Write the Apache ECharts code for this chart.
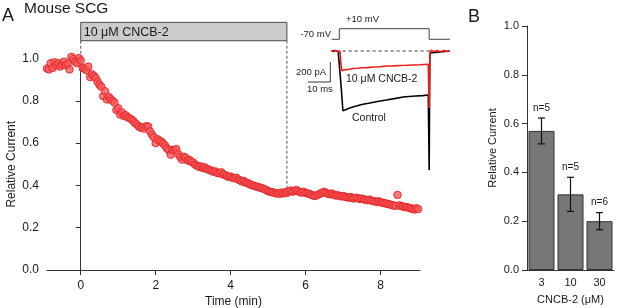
<!DOCTYPE html>
<html>
<head>
<meta charset="utf-8">
<script src="https://cdn.jsdelivr.net/npm/echarts@6/dist/echarts.min.js"></script>
<style>
  html, body { margin: 0; padding: 0; background: #fff; }
  #chart { width: 617px; height: 308px; }
</style>
</head>
<body>
<div id="chart"></div>
<script>
// ---- panel A: relative current over time (one sample every 3 s) ----
const sampleStart = -0.9;
const sampleStep = 0.05;
const relCurrent = [
  0.953, 0.948, 0.978, 0.955, 0.982, 0.968, 0.978, 0.962, 0.972, 0.985,
  0.968, 0.975, 0.948, 1.008, 0.998, 0.985, 0.978, 1.002, 0.990, 0.955,
  0.952, 0.945, 0.962, 0.912, 0.925, 0.918, 0.908, 0.890, 0.876, 0.866,
  0.822, 0.845, 0.806, 0.818, 0.808, 0.800, 0.792, 0.757, 0.765, 0.735,
  0.745, 0.728, 0.732, 0.722, 0.718, 0.712, 0.705, 0.694, 0.688, 0.678,
  0.672, 0.676, 0.668, 0.680, 0.678, 0.655, 0.640, 0.628, 0.600, 0.618,
  0.610, 0.607, 0.598, 0.588, 0.575, 0.566, 0.545, 0.568, 0.566, 0.572,
  0.548, 0.535, 0.522, 0.536, 0.530, 0.518, 0.520, 0.512, 0.508, 0.498,
  0.494, 0.488, 0.490, 0.482, 0.486, 0.478, 0.476, 0.472, 0.468, 0.464,
  0.466, 0.458, 0.457, 0.462, 0.452, 0.449, 0.444, 0.440, 0.442, 0.436,
  0.434, 0.436, 0.428, 0.424, 0.418, 0.421, 0.414, 0.410, 0.407, 0.402,
  0.400, 0.396, 0.394, 0.392, 0.388, 0.386, 0.382, 0.378, 0.372, 0.370,
  0.368, 0.366, 0.362, 0.364, 0.360, 0.366, 0.362, 0.368, 0.364, 0.372,
  0.376, 0.370, 0.374, 0.378, 0.372, 0.368, 0.366, 0.370, 0.364, 0.362,
  0.360, 0.356, 0.352, 0.350, 0.354, 0.358, 0.362, 0.366, 0.370, 0.364,
  0.360, 0.358, 0.362, 0.356, 0.352, 0.354, 0.350, 0.348, 0.350, 0.346,
  0.344, 0.342, 0.345, 0.340, 0.338, 0.342, 0.339, 0.336, 0.338, 0.334,
  0.332, 0.330, 0.333, 0.328, 0.326, 0.324, 0.322, 0.325, 0.320, 0.318,
  0.316, 0.314, 0.312, 0.310, 0.307, 0.305, 0.303, 0.355, 0.306, 0.302,
  0.300, 0.297, 0.298, 0.294, 0.292, 0.289, 0.286, 0.292, 0.288
];
const timeTicks = [0, 2, 4, 6, 8];
const drugWindow = [0, 5.5];
const drugLabel = '10 μM CNCB-2';
const markerLines = [[0, 0.99], [5.5, 0.37]];

// ---- inset: example currents (ms, pA) and voltage step (ms, mV) ----
const voltageTrace = [[-3.4, -70], [0, -70], [0, 10], [40, 10], [40, -70], [49.2, -70]];
const cncbTrace = [
  [-3.5, 5], [-2.6, -8], [-1.7, 6], [-0.8, -5], [0.3, 0], [0.7, -130], [1.2, -197],
  [2, -205], [3, -186], [4.5, -182], [6, -175], [8, -172], [10, -168], [12.5, -166],
  [15, -160], [18, -157], [21, -150], [24, -149], [27, -145], [30, -143], [33, -140],
  [36, -138], [39.6, -133], [40, -570], [40.3, -20], [41, 8], [42.2, -6], [43.5, 5],
  [45, -7], [46.5, 6], [48, -4], [49.2, 3]
];
const controlTrace = [
  [-3.5, -3], [-2, 5], [-0.5, -4], [0.3, 0], [0.9, -380], [1.6, -597], [2.5, -590],
  [3.5, -580], [5, -568], [6, -560], [8, -548], [10, -535], [13.6, -520], [17, -505],
  [21, -490], [24.5, -476], [28.4, -460], [31, -455], [34, -450], [37, -446],
  [39.6, -440], [40, -1190], [40.3, -20], [41, 0], [49.2, 0]
];
const zeroLine = [[1.5, 0], [40.5, 0]];
const scaleBar = [[-14, -310], [-4, -310], [-4, -110]];

// ---- panel B: concentration dependence ----
const concLabels = ['3', '10', '30'];
const barMeans = [0.57, 0.31, 0.2];
const barErrors = [0.053, 0.07, 0.035];
const barN = ['n=5', 'n=5', 'n=6'];

const FONT = '"Liberation Sans", Arial, sans-serif';
const INK = '#1a1a1a';
const AXIS = '#333';

const chart = echarts.init(document.getElementById('chart'));

function txt(text, x, y, size, align) {
  return {
    type: 'text', x, y, z: 100,
    style: { text, fontFamily: FONT, fontSize: size, fill: INK, align: align || 'left', verticalAlign: 'middle' }
  };
}

chart.setOption({
  animation: false,
  grid: [
    { left: 47, top: 58.5, width: 373, height: 211.5, outerBoundsMode: 'none' },
    { left: 527, top: 26, width: 87, height: 244, outerBoundsMode: 'none' },
    { left: 300, top: 15, width: 155, height: 157, outerBoundsMode: 'none' }
  ],
  xAxis: [
    {
      gridIndex: 0, type: 'value', min: -0.9, max: 9.05,
      name: 'Time (min)', nameLocation: 'middle', nameGap: 26, nameMoveOverlap: false,
      nameTextStyle: { fontFamily: FONT, fontSize: 12, color: INK },
      axisLine: { onZero: false, lineStyle: { color: AXIS } },
      axisTick: { customValues: timeTicks, length: 5, lineStyle: { color: AXIS } },
      axisLabel: { customValues: timeTicks, fontFamily: FONT, fontSize: 12, color: INK, margin: 10 },
      splitLine: { show: false }
    },
    {
      gridIndex: 1, type: 'category', data: concLabels,
      name: 'CNCB-2 (μM)', nameLocation: 'middle', nameGap: 24.5, nameMoveOverlap: false,
      nameTextStyle: { fontFamily: FONT, fontSize: 11, color: INK },
      axisLine: { lineStyle: { color: AXIS } },
      axisTick: { alignWithLabel: false, length: 5, lineStyle: { color: AXIS } },
      axisLabel: { fontFamily: FONT, fontSize: 11, color: INK, margin: 7 }
    },
    { gridIndex: 2, type: 'value', min: -17.5, max: 51.5, show: false }
  ],
  yAxis: [
    {
      gridIndex: 0, type: 'value', min: 0, max: 1, interval: 0.2,
      name: 'Relative Current', nameLocation: 'middle', nameGap: 29, nameMoveOverlap: false,
      nameTextStyle: { fontFamily: FONT, fontSize: 12, color: INK },
      axisLine: { show: true, lineStyle: { color: AXIS } },
      axisTick: { show: true, length: 5, lineStyle: { color: AXIS } },
      axisLabel: { fontFamily: FONT, fontSize: 12, color: INK, margin: 8, formatter: v => v.toFixed(1) },
      splitLine: { show: false }
    },
    {
      gridIndex: 1, type: 'value', min: 0, max: 1, interval: 0.2,
      name: 'Relative Current', nameLocation: 'middle', nameGap: 29, nameMoveOverlap: false,
      nameTextStyle: { fontFamily: FONT, fontSize: 11, color: INK },
      axisLine: { show: true, lineStyle: { color: AXIS } },
      axisTick: { show: true, length: 5, lineStyle: { color: AXIS } },
      axisLabel: { fontFamily: FONT, fontSize: 11, color: INK, margin: 8, formatter: v => v.toFixed(1) },
      splitLine: { show: false }
    },
    { gridIndex: 2, type: 'value', min: -1210, max: 360, show: false },
    { gridIndex: 2, type: 'value', min: -1071.5, max: 113.4, show: false }
  ],
  graphic: [
    txt('A', 2, 16, 18),
    txt('Mouse SCG', 24, 9, 15.5),
    txt('B', 468, 17, 18),
    txt('-70 mV', 331, 34, 9.5, 'right'),
    txt('+10 mV', 346, 19.5, 9.5),
    txt('200 pA', 326, 72, 9.5, 'right'),
    txt('10 ms', 307, 89, 9.5),
    txt('10 μM CNCB-2', 346, 79, 10.5),
    txt('Control', 352, 118, 10.5)
  ],
  series: [
    {
      // dashed markers from the drug bar down to the data
      type: 'custom', xAxisIndex: 0, yAxisIndex: 0, silent: true, z: 1,
      data: markerLines,
      renderItem: (params, api) => {
        const top = api.coord([api.value(0), 1.084]);
        const bot = api.coord([api.value(0), api.value(1)]);
        return {
          type: 'line',
          shape: { x1: top[0], y1: top[1], x2: bot[0], y2: bot[1] },
          style: { stroke: '#555', lineWidth: 1, lineDash: [3, 2] }
        };
      }
    },
    {
      // drug application bar
      type: 'custom', xAxisIndex: 0, yAxisIndex: 0, silent: true, z: 3,
      data: [drugWindow],
      renderItem: (params, api) => {
        const p0 = api.coord([api.value(0), 1.171]);
        const p1 = api.coord([api.value(1), 1.084]);
        return {
          type: 'group',
          children: [
            {
              type: 'rect',
              shape: { x: p0[0], y: p0[1], width: p1[0] - p0[0], height: p1[1] - p0[1] },
              style: { fill: '#cbcbcb', stroke: '#4a4a4a', lineWidth: 1 }
            },
            {
              type: 'text', x: p0[0] + 3, y: (p0[1] + p1[1]) / 2 + 1,
              style: { text: drugLabel, fontFamily: FONT, fontSize: 12.5, fill: INK, verticalAlign: 'middle' }
            }
          ]
        };
      }
    },
    {
      type: 'scatter', xAxisIndex: 0, yAxisIndex: 0, clip: false, z: 2,
      data: relCurrent.map((v, i) => [sampleStart + i * sampleStep, v]),
      symbolSize: 7.5,
      itemStyle: { color: 'rgba(255,88,88,0.8)', borderColor: '#e0262a', borderWidth: 0.9, opacity: 1 }
    },
    // inset
    {
      type: 'line', xAxisIndex: 2, yAxisIndex: 3, data: voltageTrace, symbol: 'none',
      lineStyle: { color: '#444', width: 1 }
    },
    {
      type: 'line', xAxisIndex: 2, yAxisIndex: 2, data: zeroLine, symbol: 'none',
      lineStyle: { color: '#333', width: 1, type: [3, 3] }
    },
    {
      type: 'line', xAxisIndex: 2, yAxisIndex: 2, data: scaleBar, symbol: 'none',
      lineStyle: { color: '#333', width: 1 }
    },
    {
      type: 'line', xAxisIndex: 2, yAxisIndex: 2, data: controlTrace, symbol: 'none',
      lineStyle: { color: '#000', width: 1.6 }
    },
    {
      type: 'line', xAxisIndex: 2, yAxisIndex: 2, data: cncbTrace, symbol: 'none',
      lineStyle: { color: '#ec1c1c', width: 1.6 }
    },
    // panel B
    {
      type: 'bar', xAxisIndex: 1, yAxisIndex: 1, data: barMeans, barWidth: 26,
      itemStyle: { color: '#777', borderColor: '#333', borderWidth: 1 }
    },
    {
      type: 'custom', xAxisIndex: 1, yAxisIndex: 1, silent: true, z: 5,
      data: barMeans.map((m, i) => [i, m, barErrors[i]]),
      renderItem: (params, api) => {
        const i = api.value(0), m = api.value(1), e = api.value(2);
        const hi = api.coord([i, m + e]);
        const lo = api.coord([i, m - e]);
        const cap = 3.5;
        const ln = (x1, y1, x2, y2) => ({
          type: 'line', shape: { x1, y1, x2, y2 }, style: { stroke: '#111', lineWidth: 1.2 }
        });
        return {
          type: 'group',
          children: [
            ln(hi[0], hi[1], lo[0], lo[1]),
            ln(hi[0] - cap, hi[1], hi[0] + cap, hi[1]),
            ln(lo[0] - cap, lo[1], lo[0] + cap, lo[1]),
            {
              type: 'text', x: hi[0], y: hi[1] - 10,
              style: { text: barN[params.dataIndex], fontFamily: FONT, fontSize: 10, fill: INK, align: 'center', verticalAlign: 'middle' }
            }
          ]
        };
      }
    }
  ]
});
</script>
</body>
</html>
